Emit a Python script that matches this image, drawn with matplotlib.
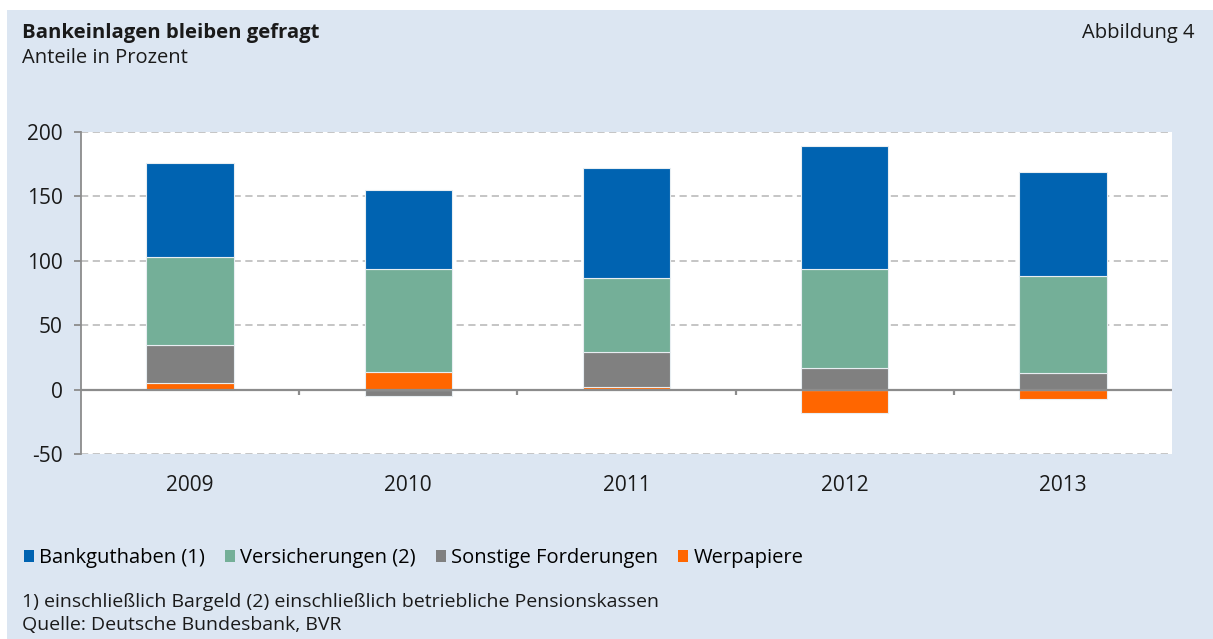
import matplotlib.pyplot as plt
import numpy as np
from matplotlib.patches import Patch, Rectangle

plt.rcParams['font.family'] = ['Open Sans', 'DejaVu Sans']

# data
years = ['2009', '2010', '2011', '2012', '2013']
werpapiere = [5, 14, 2, -18, -7]
sonstige = [30, -5, 27, 17, 13]
versicherungen = [68, 80, 58, 77, 75]
bankguthaben = [73, 61, 85, 95, 81]

series = [
    ('Werpapiere', werpapiere, '#ff6600'),
    ('Sonstige Forderungen', sonstige, '#808080'),
    ('Versicherungen (2)', versicherungen, '#74af98'),
    ('Bankguthaben (1)', bankguthaben, '#0063b1'),
]

W, H = 1213, 639
fig = plt.figure(figsize=(W / 100, H / 100), dpi=100, facecolor='white')

# light blue panel behind everything
fig.patches.append(Rectangle((7 / W, 0), 1 - 7 / W, 1 - 10 / H,
                             transform=fig.transFigure, facecolor='#dce6f2',
                             edgecolor='none', zorder=-10))

ax = fig.add_axes([81 / W, 1 - 454 / H, (1172 - 81) / W, (454 - 132) / H])
ax.set_facecolor('white')

x = np.arange(len(years))
pos_base = np.zeros(len(years))
neg_base = np.zeros(len(years))
for name, vals, col in series:
    vals = np.array(vals, dtype=float)
    bottoms = np.where(vals >= 0, pos_base, neg_base)
    ax.bar(x, vals, width=0.4, bottom=bottoms, color=col,
           edgecolor='#e8eef2', linewidth=0.8, zorder=3)
    pos_base += np.where(vals >= 0, vals, 0)
    neg_base += np.where(vals < 0, vals, 0)

ax.set_xlim(-0.5, len(years) - 0.5)
ax.set_ylim(-50, 200)
ax.set_yticks([-50, 0, 50, 100, 150, 200])
ax.set_yticklabels(['-50', '0', '50', '100', '150', '200'])
for gy in [-50, 50, 100, 150, 200]:
    ax.axhline(gy, color='#c0c0c0', lw=1.3, ls=(0, (4, 2.5)), zorder=1)
ax.axhline(0, color='#8c8c8c', lw=1.6, zorder=4)

# category boundary ticks on the zero line
bounds = np.arange(0.5, len(years) - 0.5, 1)
ax.vlines(bounds, -4.5, 0, color='#8c8c8c', lw=1.6, zorder=4)

ax.set_xticks(x)
ax.set_xticklabels(years)
ax.tick_params(axis='x', length=0, pad=15, labelsize=15, colors='#1a1a1a')
ax.tick_params(axis='y', length=5, width=1.3, color='#8c8c8c', pad=8,
               labelsize=15, labelcolor='#1a1a1a')

for s in ['top', 'right', 'bottom']:
    ax.spines[s].set_visible(False)
ax.spines['left'].set_color('#8c8c8c')
ax.spines['left'].set_linewidth(1.3)

# texts
fig.text(22 / W, 1 - 33 / H, 'Bankeinlagen bleiben gefragt', fontsize=14.6,
         fontweight='bold', va='center', ha='left', color='#1a1a1a')
fig.text(22 / W, 1 - 58 / H, 'Anteile in Prozent', fontsize=14.5,
         va='center', ha='left', color='#1a1a1a')
fig.text(1195 / W, 1 - 33 / H, 'Abbildung 4', fontsize=14.5,
         va='center', ha='right', color='#1a1a1a')

handles = [Patch(facecolor=col, edgecolor='none', label=name)
           for name, vals, col in reversed(series)]
fig.legend(handles=handles, loc='center left',
           bbox_to_anchor=(16 / W, 1 - 558 / H), ncol=4, frameon=False,
           fontsize=14.5, handlelength=0.5, handleheight=0.6,
           handletextpad=0.25, columnspacing=1.0, borderaxespad=0)

fig.text(22 / W, 1 - 602 / H,
         '1) einschließlich Bargeld (2) einschließlich betriebliche Pensionskassen',
         fontsize=14, va='center', ha='left', color='#1a1a1a')
fig.text(22 / W, 1 - 625 / H, 'Quelle: Deutsche Bundesbank, BVR',
         fontsize=14, va='center', ha='left', color='#1a1a1a')

fig.savefig('out.png', dpi=100, facecolor=fig.get_facecolor())
